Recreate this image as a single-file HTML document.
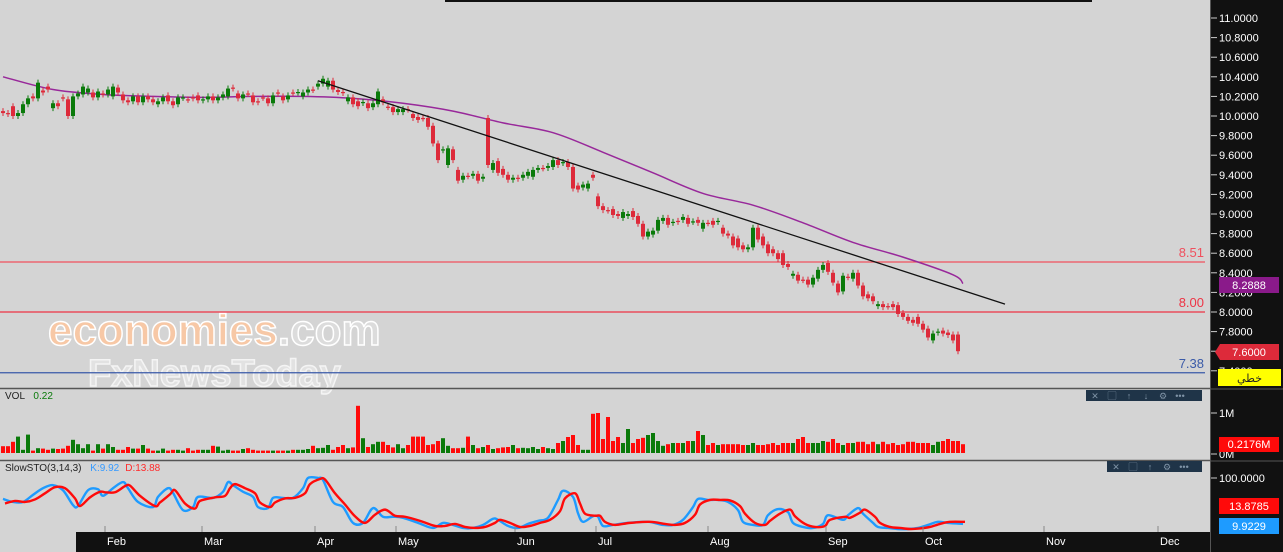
<!DOCTYPE html>
<html><head><meta charset="utf-8"><style>
html,body{margin:0;padding:0;background:#d4d4d4;}
svg{display:block;font-family:"Liberation Sans","Noto Sans CJK SC",sans-serif;}
</style></head><body>
<svg id="c" width="1283" height="552" viewBox="0 0 1283 552" xmlns="http://www.w3.org/2000/svg">
<rect x="0" y="0" width="1283" height="552" fill="#d4d4d4"/>
<rect x="445" y="0" width="647" height="2" fill="#111"/>
<g id="wm">
<text x="48" y="345" font-size="44" font-weight="bold" fill="#f7c8a6" stroke="#fff" stroke-width="1.5">economies<tspan fill="#dcdcdc">.com</tspan></text>
<text x="88" y="386" font-size="38" font-weight="bold" fill="#e2e2e2" stroke="#f4f4f4" stroke-width="1.5">FxNewsToday</text>
</g>
<g id="plot"></g>
<rect x="1210" y="0" width="73" height="552" fill="#111"/>
<line x1="1210.5" y1="0" x2="1210.5" y2="552" stroke="#555"/>
<g id="axis"></g>
</svg>
<script>
// ---- data ----
const opens=[10.05,10.03,10.10,10.00,10.03,10.12,10.20,10.18,10.26,10.30,10.08,10.13,10.19,10.17,10.00,10.20,10.22,10.24,10.24,10.19,10.23,10.22,10.20,10.29,10.22,10.16,10.15,10.20,10.14,10.20,10.17,10.12,10.15,10.21,10.15,10.12,10.185,10.17,10.19,10.21,10.16,10.17,10.20,10.16,10.19,10.20,10.29,10.23,10.18,10.23,10.21,10.15,10.19,10.18,10.13,10.24,10.20,10.17,10.24,10.24,10.20,10.24,10.27,10.30,10.33,10.30,10.36,
10.265,10.245,10.15,10.19,10.15,10.133,10.13,10.09,10.12,10.17,10.095,10.09,10.04,10.04,10.07,10.02,9.99,9.98,9.98,9.90,9.72,9.65,9.50,9.66,9.45,9.35,9.39,9.39,9.41,9.36,9.98,9.45,9.54,9.46,9.40,9.35,9.37,9.37,9.39,9.38,9.45,9.47,9.47,9.48,9.55,9.52,9.53,9.48,9.29,9.27,9.26,9.40,9.18,9.08,9.04,9.05,9.00,8.96,8.98,9.03,8.98,8.90,8.77,8.79,8.83,8.93,8.96,8.91,8.93,
8.94,8.96,8.92,8.94,8.85,8.91,8.93,8.92,8.86,8.80,8.77,8.75,8.68,8.64,8.66,8.86,8.77,8.69,8.64,8.60,8.60,8.49,8.37,8.38,8.33,8.33,8.28,8.34,8.43,8.50,8.40,8.29,8.21,8.36,8.34,8.40,8.27,8.18,8.16,8.06,8.08,8.06,8.08,8.07,7.99,7.95,7.92,7.95,7.88,7.83,7.71,7.79,7.81,7.79,7.77,7.77,7.69];
const closes=[10.03,10.02,10.00,10.03,10.12,10.18,10.18,10.34,10.24,10.27,10.13,10.10,10.18,10.00,10.20,10.23,10.30,10.28,10.19,10.25,10.22,10.27,10.30,10.24,10.16,10.14,10.20,10.14,10.20,10.17,10.14,10.15,10.19,10.15,10.11,10.19,10.19,10.165,10.18,10.16,10.17,10.20,10.16,10.19,10.22,10.28,10.28,10.18,10.22,10.225,10.14,10.14,10.185,10.13,10.21,10.23,10.16,10.21,10.235,10.245,10.24,10.27,10.265,10.33,10.38,10.36,10.27,
10.245,10.235,10.19,10.12,10.10,10.143,10.08,10.13,10.25,10.14,10.09,10.04,10.07,10.07,10.065,9.98,9.96,9.975,9.89,9.72,9.55,9.66,9.67,9.55,9.34,9.39,9.385,9.41,9.34,9.38,9.50,9.52,9.42,9.40,9.35,9.37,9.36,9.40,9.43,9.45,9.47,9.465,9.49,9.55,9.50,9.53,9.48,9.26,9.25,9.30,9.31,9.37,9.08,9.04,9.035,8.99,8.98,9.02,9.00,8.97,8.90,8.77,8.82,8.83,8.94,8.96,8.89,8.92,8.92,
8.97,8.90,8.925,8.91,8.91,8.905,8.89,8.93,8.80,8.78,8.68,8.66,8.64,8.66,8.86,8.74,8.68,8.60,8.60,8.54,8.48,8.46,8.39,8.32,8.325,8.28,8.35,8.43,8.48,8.41,8.30,8.20,8.37,8.355,8.40,8.27,8.16,8.14,8.11,8.08,8.05,8.055,8.05,7.98,7.95,7.91,7.89,7.88,7.82,7.74,7.78,7.80,7.78,7.765,7.71,7.60];
const volumes=[.17,.17,.28,.41,.08,.46,.06,.12,.11,.08,.11,.1,.11,.18,.33,.22,.12,.22,.06,.22,.11,
.22,.15,.08,.08,.15,.11,.11,.2,.11,.06,.06,.11,.06,.08,.08,.06,.12,.06,.08,.08,
.08,.18,.16,.06,.08,.06,.06,.1,.12,.08,.06,.06,.06,.06,.06,.06,.06,.08,.08,.08,
.1,.18,.12,.13,.2,.08,.15,.2,.12,.14,1.18,.37,.15,.22,.28,.28,.2,.14,.22,.12,
.2,.41,.41,.41,.2,.22,.3,.37,.18,.12,.12,.13,.41,.2,.12,.15,.2,.1,.12,.14,
.15,.2,.12,.13,.12,.15,.1,.15,.12,.1,.25,.3,.4,.45,.2,.08,.08,
.98,1.0,.35,.9,
.3,.4,.25,.6,.25,.35,.38,.45,.5,.3,.18,.22,.25,.25,.25,.3,.3,.55,.45,
.2,.25,.2,.22,.22,.22,.22,.2,.2,.25,.2,.2,.22,.25,.2,.25,.25,.25,.35,.4,.25,.25,.25,.3,.28,.35,.25,.2,.25,.25,.28,.28,.22,.28,.22,.28,.22,.25,.2,.22,.28,.28,.25,.25,.25,.2,.28,.3,.35,.3,.3,.22];
const maIdx=[0,10,20,30,40,50,60,70,80,90,100,110,120,130,140,150,160,170,180,190,192];
const maVals=[10.4,10.27,10.22,10.2,10.19,10.2,10.2,10.18,10.13,10.05,9.93,9.83,9.63,9.42,9.21,9.09,8.91,8.71,8.56,8.38,8.29];
const trendIdx=[63,200.4];
const trendPrice=[10.36,8.08];
const levels=[8.51,8.00,7.38];
const levelLabels=["8.51","8.00","7.38"];
const stoIdx=[0,2,4,6,8,10,12,14,15,17,19,20,22,24,25,27,30,31,33,34,36,38,39,42,44,45,46,48,50,51,53,54,56,58,60,61,63,64,66,68,70,72,74,76,78,80,83,86,88,90,92,94,96,98,99,101,103,105,107,109,111,112,114,115,116,118,119,120,122,125,129,132,134,136,138,139,141,143,145,147,148,150,152,153,155,157,158,160,162,164,165,168,169,171,172,174,175,177,179,181,183,185,187,189,192];
const kVals=[59,53,53,67,80,86,76,47,45,76,78,65,80,92,80,53,43,63,80,71,37,43,63,61,73,92,86,73,63,43,41,61,61,61,80,100,100,96,53,43,12,12,41,24,24,22,12,2,12,8,2,2,8,20,18,6,2,10,16,22,57,75,63,31,14,25,24,6,8,12,14,8,8,18,43,59,57,57,53,37,14,8,8,27,39,33,12,4,2,10,27,18,27,41,30,12,4,2,0,0,2,8,14,12,10];
const dVals=[50,55,53,58,70,82,80,60,45,62,73,72,72,84,85,65,45,52,68,76,50,40,55,62,65,80,88,80,70,52,43,52,60,61,70,88,98,97,70,48,25,12,28,38,26,24,16,6,6,10,4,2,4,12,18,12,4,6,12,18,35,60,70,50,30,26,26,14,8,12,14,10,8,12,28,48,57,57,56,45,30,12,8,16,30,38,25,10,4,6,18,24,22,32,38,24,12,4,2,0,1,4,10,14,14];
const priceTicks=[11.0,10.8,10.6,10.4,10.2,10.0,9.8,9.6,9.4,9.2,9.0,8.8,8.6,8.4,8.2,8.0,7.8,7.6,7.4];
const months=["Feb","Mar","Apr","May","Jun","Jul","Aug","Sep","Oct","Nov","Dec"];
const monthIdx=[20.4,39.8,62.4,78.6,102.4,118.6,141,164.6,184,208.2,231];

// ---- scales ----
const NS="http://www.w3.org/2000/svg";
const xOf=i=>3+5*i;
const yP=p=>18+(11-p)*98;
const yV=v=>453-v*40;
const yS=v=>529-v*0.51;
const plot=document.getElementById('plot'), axis=document.getElementById('axis');
function mk(tag,attrs,parent){const e=document.createElementNS(NS,tag);for(const k in attrs)e.setAttribute(k,attrs[k]);parent.appendChild(e);return e;}
function smooth(pts){let d=`M${pts[0][0]},${pts[0][1]}`;for(let i=0;i<pts.length-1;i++){const p0=pts[i-1]||pts[i],p1=pts[i],p2=pts[i+1],p3=pts[i+2]||p2;
d+=` C${p1[0]+(p2[0]-p0[0])/6},${p1[1]+(p2[1]-p0[1])/6} ${p2[0]-(p3[0]-p1[0])/6},${p2[1]-(p3[1]-p1[1])/6} ${p2[0]},${p2[1]}`;}return d;}

let e;
e=mk('line',{x1:0,y1:388.5,x2:1210,y2:388.5,stroke:'#555','stroke-width':1.5},plot);


e=mk('line',{x1:0,y1:460.5,x2:1210,y2:460.5,stroke:'#555','stroke-width':1.5},plot);


const levelColors=['#f0505e','#ee3344','#3a5aa8'];
levels.forEach((lv,k)=>{
  const y=yP(lv);
  const l=mk('line',{x1:0,y1:y,x2:1205,y2:y,stroke:levelColors[k],'stroke-width':1.2},plot);
  
  
  const t=mk('text',{x:1204,y:y-5,'text-anchor':'end','font-size':13,fill:levelColors[k]},plot);
  t.textContent=levelLabels[k];
  
  
});

const maPts=maIdx.map((ix,k)=>[xOf(ix),yP(maVals[k])]);
e=mk('path',{d:smooth(maPts),fill:'none',stroke:'#98289a','stroke-width':1.5},plot);



opens.forEach((o,i)=>{
  const c=closes[i];const up=c>=o;const col=up?'#0a7a0a':'#dd2a3a';
  const x=xOf(i);const top=yP(Math.max(o,c));const bot=yP(Math.min(o,c));
  const w=mk('line',{x1:x,y1:top-3,x2:x,y2:bot+3,stroke:col,'stroke-width':1},plot);
  
  
  const b=mk('rect',{x:x-2,y:top,width:4,height:Math.max(1.2,bot-top),fill:col},plot);
  
  
});

e=mk('line',{x1:xOf(trendIdx[0]),y1:yP(trendPrice[0]),x2:xOf(trendIdx[1]),y2:yP(trendPrice[1]),stroke:'#111','stroke-width':1.3},plot);



volumes.forEach((v,i)=>{
  const up=closes[i]>=opens[i];
  const r=mk('rect',{x:xOf(i)-2,y:yV(v),width:4,height:v*40,fill:up?'#0a7a0a':'#ff0a0a'},plot);
  
  
});

const kPts=stoIdx.map((ix,k)=>[xOf(ix),yS(kVals[k])]);
const dPts=stoIdx.map((ix,k)=>[xOf(ix)+2,yS(dVals[k])]);
e=mk('path',{d:smooth(kPts),fill:'none',stroke:'#1e9bff','stroke-width':2.4},plot);


e=mk('path',{d:smooth(dPts),fill:'none',stroke:'#ff0a0a','stroke-width':2.4},plot);



e=mk('text',{x:5,y:399,'font-size':10,fill:'#222'},plot);e.innerHTML='VOL <tspan fill="#0a7a0a" dx="6">0.22</tspan>';


e=mk('text',{x:5,y:471,'font-size':10,fill:'#222'},plot);e.innerHTML='SlowSTO(3,14,3) <tspan fill="#3399ff" dx="6">K:9.92</tspan><tspan fill="#ff2a2a" dx="6">D:13.88</tspan>';



function toolbar(x,y,w,icons,name){
  const g=mk('g',{},plot);
  
  
  mk('rect',{x:x,y:y,width:w,height:11,fill:'#1f3448'},g);
  icons.forEach((ic,k)=>{const t=mk('text',{x:x+9+k*17,y:y+9,'font-size':9,fill:'#7f93a6','text-anchor':'middle'},g);t.textContent=ic;
    
    });
}
toolbar(1086,390,116,['✕','▢','↑','↓','⚙','•••'],'volume-toolbar');
toolbar(1107,461,95,['✕','▢','↑','⚙','•••'],'sto-toolbar');

e=mk('rect',{x:76,y:532,width:1134,height:20,fill:'#111'},plot);


months.forEach((m,k)=>{
  const x=xOf(monthIdx[k]);
  const tk=mk('line',{x1:x,y1:526,x2:x,y2:532,stroke:'#888'},plot);
  
  
  const t=mk('text',{x:x+2,y:545,'font-size':11,fill:'#fff'},plot);t.textContent=m;
  
  
});

priceTicks.forEach(p=>{
  const y=yP(p);
  const l=mk('line',{x1:1211,y1:y,x2:1217,y2:y,stroke:'#ccc'},axis);
  
  
  const t=mk('text',{x:1219,y:y+4,'font-size':11,fill:'#fff'},axis);t.textContent=p.toFixed(4);
  
  
});
[[413,'1M'],[454,'0M'],[478,'100.0000']].forEach(a=>{
  const l=mk('line',{x1:1211,y1:a[0],x2:1217,y2:a[0],stroke:'#ccc'},axis);
  
  
  const t=mk('text',{x:1219,y:a[0]+4,'font-size':11,fill:'#fff'},axis);t.textContent=a[1];
  
  
});
mk('line',{x1:1210,y1:389,x2:1283,y2:389,stroke:'#555'},axis);
mk('line',{x1:1210,y1:461,x2:1283,y2:461,stroke:'#555'},axis);
function box(x,y,w,h,fill,txt,col,name,font){
  const g=mk('g',{},axis);
  
  
  mk('rect',{x:x,y:y,width:w,height:h,fill:fill},g);
  const t=mk('text',{x:x+w/2,y:y+h-4,'font-size':11,fill:col,'text-anchor':'middle','font-family':font||'"Liberation Sans",sans-serif'},g);t.textContent=txt;
}
box(1219,277,60,16,'#8a1a8a','8.2888','#fff','ma-value-box');
mk('path',{d:'M1215,352 L1220,344 L1279,344 L1279,360 L1220,360 Z',fill:'#dd2a3a'},axis);
e=mk('text',{x:1249,y:356,'font-size':11,fill:'#fff','text-anchor':'middle'},axis);e.textContent='7.6000';


box(1218,369,63,17,'#ffff00','خطي','#222','line-type-box','"Liberation Sans","DejaVu Sans",sans-serif');
box(1219,437,60,15,'#ff0a0a','0.2176M','#fff','volume-value-box');
box(1219,498,60,16,'#ff0a0a','13.8785','#fff','sto-d-value-box');
box(1219,518,60,16,'#1e9bff','9.9229','#fff','sto-k-value-box');
</script>
</body></html>
